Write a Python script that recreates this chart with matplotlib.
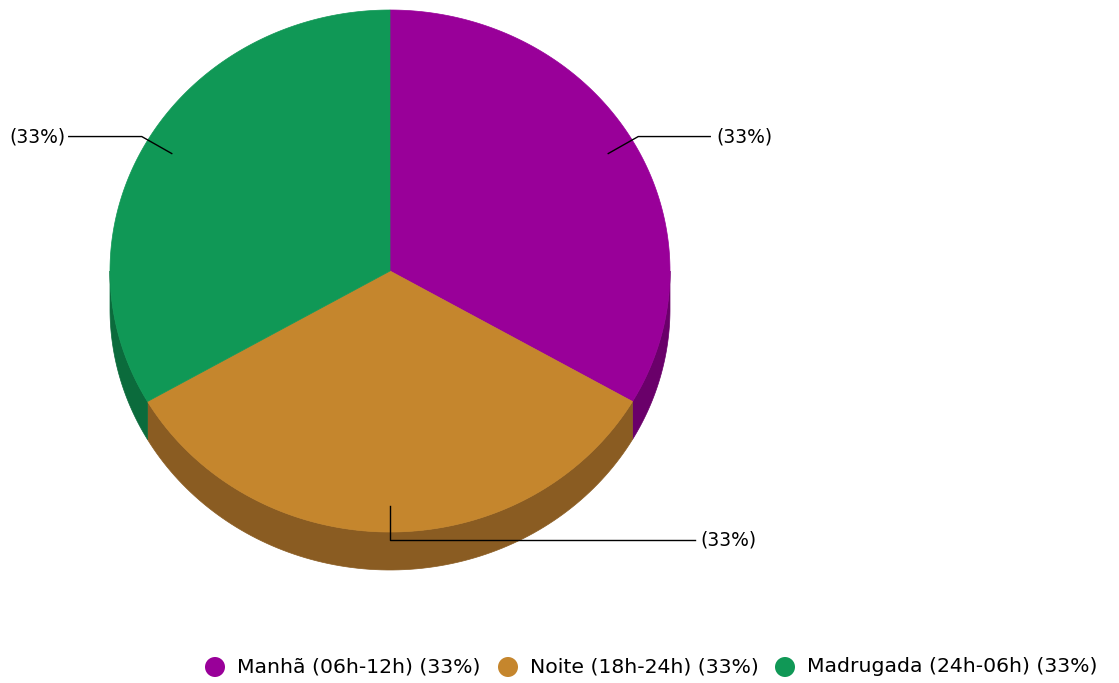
import numpy as np
import matplotlib
matplotlib.use("Agg")
import matplotlib.pyplot as plt
from matplotlib.patches import Polygon, Circle

categories = ["Manhã (06h-12h)", "Noite (18h-24h)", "Madrugada (24h-06h)"]
values = [1, 1, 1]
top_colors = ["#990099", "#C5862D", "#109856"]
side_colors = ["#6A006A", "#8A5C22", "#0B6B3C"]

W, H = 1119, 683
fig = plt.figure(figsize=(W / 100, H / 100), dpi=100)
ax = fig.add_axes([0, 0, 1, 1])
ax.set_xlim(0, W)
ax.set_ylim(H, 0)
ax.axis("off")

cx, cy, rx, ry, depth = 390, 271, 280, 261, 38
total = sum(values)
pcts = [v / total * 100 for v in values]

def pt(t, dy=0, r=1.0):
    return (cx + r * rx * np.cos(np.radians(t)), cy - r * ry * np.sin(np.radians(t)) + dy)

# slice angles, clockwise from top
starts, ends = [], []
a = 90.0
for v in values:
    b = a - v / total * 360
    starts.append(a)
    ends.append(b)
    a = b

# sides
for s, e, sc in zip(starts, ends, side_colors):
    for shift in (0, 360, -360):
        lo = max(e + shift, -180)
        hi = min(s + shift, 0)
        if hi > lo:
            ts = np.linspace(hi, lo, 100)
            top = [pt(t) for t in ts]
            bot = [pt(t, depth) for t in ts[::-1]]
            ax.add_patch(Polygon(top + bot, closed=True, facecolor=sc, edgecolor=sc, lw=0.5, zorder=1))

# tops
for s, e, tc in zip(starts, ends, top_colors):
    ts = np.linspace(s, e, 200)
    poly = [(cx, cy)] + [pt(t) for t in ts]
    ax.add_patch(Polygon(poly, closed=True, facecolor=tc, edgecolor=tc, lw=0.5, zorder=2))

# leader lines and labels
lab_font = dict(fontsize=13.5, color="#000000", family="DejaVu Sans")
leg_font = dict(fontsize=14.7, color="#000000", family="DejaVu Sans")
for s, e, p in zip(starts, ends, pcts):
    m = (s + e) / 2
    x0, y0 = pt(m, r=0.9)
    txt = "(%d%%)" % round(p)
    mm = ((m + 180) % 360) - 180
    if abs(mm + 90) < 5:
        x1, y1 = x0, y0 + 34
        x2 = x1 + 305
        ax.plot([x0, x1, x2], [y0, y1, y1], color="black", lw=1, zorder=3)
        ax.text(x2 + 5, y1, txt, ha="left", va="center", **lab_font)
    elif np.cos(np.radians(m)) > 0:
        x1, y1 = x0 + 30, y0 - 17
        x2 = x1 + 72
        ax.plot([x0, x1, x2], [y0, y1, y1], color="black", lw=1, zorder=3)
        ax.text(x2 + 6, y1, txt, ha="left", va="center", **lab_font)
    else:
        x1, y1 = x0 - 30, y0 - 17
        x2 = x1 - 73
        ax.plot([x0, x1, x2], [y0, y1, y1], color="black", lw=1, zorder=3)
        ax.text(x2 - 3, y1, txt, ha="right", va="center", **lab_font)

# legend
leg_x = [215, 508, 785]
for lx, cat, tc, p in zip(leg_x, categories, top_colors, pcts):
    ax.add_patch(Circle((lx, 667), 10, facecolor=tc, edgecolor="none", zorder=3))
    ax.text(lx + 22, 667, "%s (%d%%)" % (cat, round(p)), ha="left", va="center", **leg_font)

fig.savefig("out.png", dpi=100)
